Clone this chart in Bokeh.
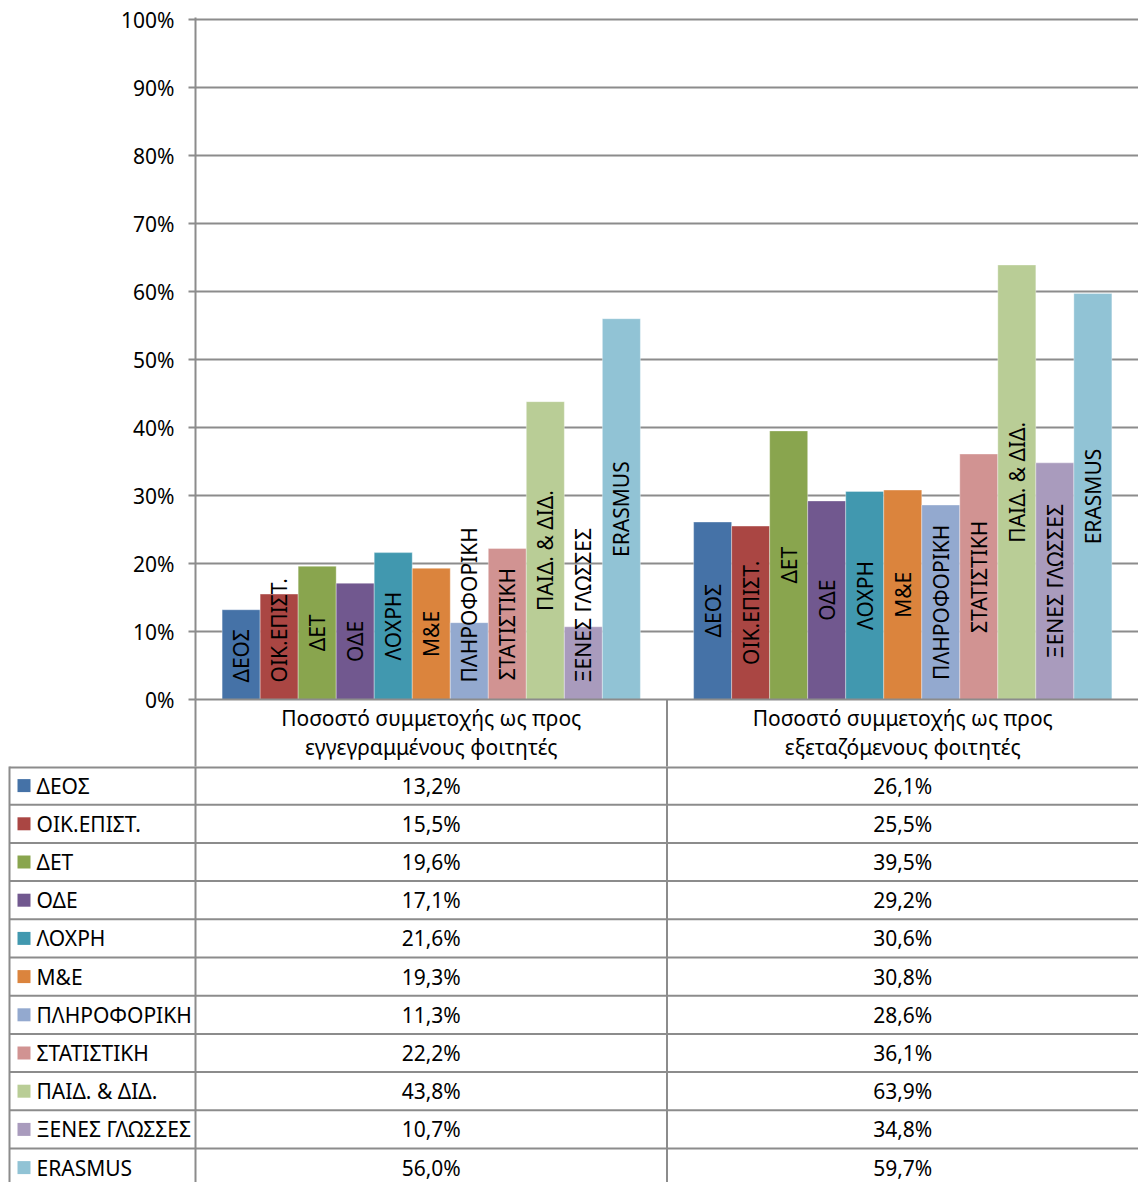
import math
from bokeh.plotting import figure
from bokeh.layouts import column
from bokeh.models import Range1d, FixedTicker
from bokeh.core.properties import value
from bokeh.embed import file_html
from bokeh.resources import INLINE

# ---------------- data ----------------
series = ["ΔΕΟΣ", "ΟΙΚ.ΕΠΙΣΤ.", "ΔΕΤ", "ΟΔΕ", "ΛΟΧΡΗ", "Μ&Ε", "ΠΛΗΡΟΦΟΡΙΚΗ",
          "ΣΤΑΤΙΣΤΙΚΗ", "ΠΑΙΔ. & ΔΙΔ.", "ΞΕΝΕΣ ΓΛΩΣΣΕΣ", "ERASMUS"]
colors = ["#4572A7", "#AA4643", "#89A54E", "#71588F", "#4198AF", "#DB843D",
          "#93A9CF", "#D19392", "#B9CD96", "#A99BBD", "#91C3D5"]
groups = ["Ποσοστό συμμετοχής ως προς\nεγγεγραμμένους φοιτητές",
          "Ποσοστό συμμετοχής ως προς\nεξεταζόμενους φοιτητές"]
enrolled = [13.2, 15.5, 19.6, 17.1, 21.6, 19.3, 11.3, 22.2, 43.8, 10.7, 56.0]
examined = [26.1, 25.5, 39.5, 29.2, 30.6, 30.8, 28.6, 36.1, 63.9, 34.8, 59.7]
y_ticks = [0, 10, 20, 30, 40, 50, 60, 70, 80, 90, 100]
y_tick_labels = ["0%", "10%", "20%", "30%", "40%", "50%", "60%", "70%", "80%", "90%", "100%"]

# ---------------- layout constants ----------------
FONT = "Noto Sans"
FSN = 21
FS = f"{FSN}px"
W = 1138
H_TOTAL = 1182
PX_PER_UNIT_Y = 6.8
TOP = 17
PLOT_H = 682
Y_END = PLOT_H / PX_PER_UNIT_Y
BAND = 67
LEFT = 195
H_A = TOP + PLOT_H + BAND
H_B = H_TOTAL - H_A
GROUP_PX = (W - LEFT) / 2.0
BW = 1 / 12.4
GRID = "#8c8c8c"
ROW_H = 38.2

values_by_group = [enrolled, examined]

# ---------------- chart figure ----------------
p = figure(width=W, height=H_A, x_range=Range1d(0, 2), y_range=Range1d(0, Y_END),
           output_backend="svg", toolbar_location=None,
           min_border_left=LEFT, min_border_right=0, min_border_top=TOP,
           min_border_bottom=BAND)
p.outline_line_color = None
p.background_fill_color = "white"

p.yaxis.ticker = FixedTicker(ticks=y_ticks)
p.yaxis.major_label_overrides = {t: l for t, l in zip(y_ticks, y_tick_labels)}
p.yaxis.major_label_text_font = FONT
p.yaxis.major_label_text_font_size = FS
p.yaxis.major_label_text_color = "black"
p.yaxis.major_tick_out = 7
p.yaxis.major_tick_in = 0
p.yaxis.minor_tick_out = 0
p.yaxis.minor_tick_in = 0
p.yaxis.major_label_standoff = 14
p.yaxis.axis_line_color = GRID
p.yaxis.axis_line_width = 2
p.yaxis.major_tick_line_color = GRID
p.yaxis.major_tick_line_width = 2

p.xaxis.ticker = FixedTicker(ticks=[])
p.xaxis.major_tick_out = 0
p.xaxis.minor_tick_out = 0
p.xaxis.axis_line_color = GRID
p.xaxis.axis_line_width = 2

p.xgrid.visible = False
p.ygrid.ticker = FixedTicker(ticks=y_ticks)
p.ygrid.grid_line_color = GRID
p.ygrid.grid_line_width = 2


def est_len(s):
    w = 0.0
    for ch in s:
        if ch in ". ":
            w += 0.27
        elif ch == "&":
            w += 0.73
        elif ch in "ΟΦΩ":
            w += 0.8
        elif ch in "ΙΤ":
            w += 0.4
        else:
            w += 0.64
    return w * FSN


bx, btop, bcol = [], [], []
cx, cy, ct = [], [], []
lx, ly, lt = [], [], []
PAD = 17
for g, vals in enumerate(values_by_group):
    for j, v in enumerate(vals):
        x = g + 0.5 + (j - 5) * BW
        bx.append(x)
        btop.append(v)
        bcol.append(colors[j])
        L = est_len(series[j])
        if L / 2 + PAD > v * PX_PER_UNIT_Y / 2:
            lx.append(x)
            ly.append(PAD / PX_PER_UNIT_Y)
            lt.append(series[j])
        else:
            cx.append(x)
            cy.append(v / 2)
            ct.append(series[j])

p.vbar(x=bx, top=btop, bottom=0, width=BW, fill_color=bcol,
       line_color="white", line_alpha=0.35, line_width=1)

p.text(x=cx, y=cy, text=ct, angle=math.pi / 2, text_align="center",
       text_baseline="middle", text_font=value(FONT), text_font_size=FS,
       text_color="black")
p.text(x=lx, y=ly, text=lt, angle=math.pi / 2, text_align="left",
       text_baseline="middle", text_font=value(FONT), text_font_size=FS,
       text_color="black")

# band below the plot: separators and category names
band_bottom = -BAND / PX_PER_UNIT_Y
sep = p.segment(x0=[0, 1], y0=[0, 0], x1=[0, 1], y1=[band_bottom, band_bottom],
                line_color=GRID, line_width=2)
sep.level = "overlay"
for k, dy in enumerate([18, 47]):
    t = p.text(x=[g + 0.5 for g in range(2)],
               y=[-dy / PX_PER_UNIT_Y] * 2,
               text=[lab.split("\n")[k] for lab in groups],
               text_align="center", text_baseline="middle",
               text_font=value(FONT), text_font_size=FS, text_color="black")
    t.level = "overlay"

# ---------------- data table figure ----------------
q = figure(width=W, height=H_B, x_range=Range1d(LEFT, W), y_range=Range1d(H_B, 0),
           output_backend="svg", toolbar_location=None,
           min_border_left=LEFT, min_border_right=0, min_border_top=0, min_border_bottom=0)
q.outline_line_color = None
q.axis.visible = False
q.grid.visible = False

n = len(series)
row_lines = [1] + [ROW_H * k for k in range(1, n + 1)]
renderers = []
renderers.append(q.segment(x0=[9] * len(row_lines), y0=row_lines, x1=[W] * len(row_lines),
                           y1=row_lines, line_color=GRID, line_width=2))
vx = [9, LEFT, LEFT + GROUP_PX]
renderers.append(q.segment(x0=vx, y0=[0] * 3, x1=vx, y1=[H_B] * 3,
                           line_color=GRID, line_width=2))

rc = [ROW_H * (k + 0.5) for k in range(n)]
renderers.append(q.rect(x=[23.5] * n, y=rc, width=13, height=13, fill_color=colors,
                        line_color=None))
renderers.append(q.text(x=[36] * n, y=rc, text=series, text_align="left",
                        text_baseline="middle", text_font=value(FONT),
                        text_font_size=FS, text_color="black"))
for g, vals in enumerate(values_by_group):
    renderers.append(q.text(x=[LEFT + GROUP_PX * (g + 0.5)] * n, y=rc,
                            text=[f"{v:.1f}".replace(".", ",") + "%" for v in vals],
                            text_align="center", text_baseline="middle",
                            text_font=value(FONT), text_font_size=FS, text_color="black"))
for r in renderers:
    r.level = "overlay"

layout = column(p, q, spacing=0)
open("out.html", "w").write(file_html(layout, INLINE))
